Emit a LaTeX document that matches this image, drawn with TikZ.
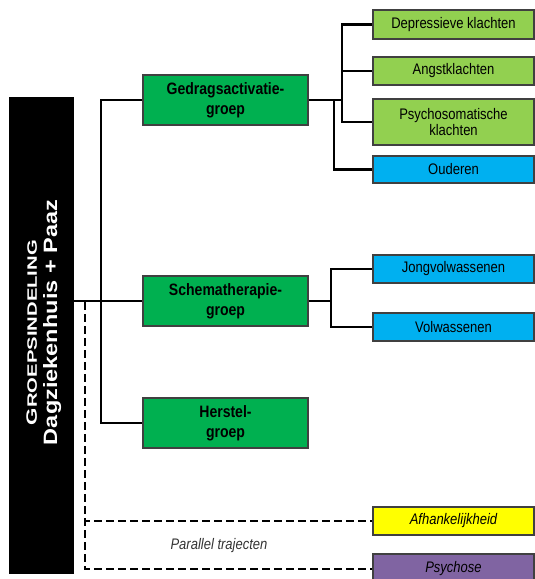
\documentclass[tikz,border=0pt]{standalone}
\usepackage{graphicx}
\usepackage{fontspec}
\setmainfont[FakeStretch=0.85]{Liberation Sans}
\newfontfamily\vertfont{Liberation Sans}
\definecolor{dkgreen}{HTML}{00B050}
\definecolor{ltgreen}{HTML}{92D050}
\definecolor{skyblue}{HTML}{00B0F0}
\definecolor{brightyellow}{HTML}{FFFF00}
\definecolor{lilac}{HTML}{8064A2}
\definecolor{bordergray}{HTML}{404040}
\definecolor{labelgray}{HTML}{333333}
\tikzset{
  bx/.style={draw=bordergray, line width=1.3pt, inner sep=0pt, align=center, text=black},
  grp/.style={bx, fill=dkgreen, minimum width=165pt, minimum height=50pt,
              font=\fontsize{16.5}{20}\selectfont\bfseries},
  sub/.style={bx, minimum width=161pt, font=\fontsize{15.3}{16}\selectfont},
  conn/.style={line width=2.9pt},
  dashconn/.style={line width=2.6pt, dash pattern=on 8pt off 4pt},
  vtext/.style={rotate=90, anchor=base, inner sep=0pt, text=white, font=\vertfont\bfseries},
}
\begin{document}
\begin{tikzpicture}[x=1pt,y=-1pt]
\useasboundingbox (0,0) rectangle (535,579);
\clip (0,0) rectangle (535,579);

% left black bar
\node[fill=black, draw=black, inner sep=0pt, minimum width=64pt, minimum height=476pt] (main) at (41,335) {};
\node[vtext] (title1) at (37,332.5) {\resizebox{185pt}{10.5pt}{\fontsize{16}{16}\selectfont G\fontsize{14.5}{16}\selectfont ROEPSINDELING}};
\node[vtext] (title2) at (57,322.5) {\resizebox{245pt}{14pt}{\fontsize{18}{18}\selectfont Dagziekenhuis + Paaz}};

% group boxes
\node[grp] (gedrag) at (225.5,100) {Gedragsactivatie-\\groep};
\node[grp] (schema) at (225.5,301) {Schematherapie-\\groep};
\node[grp] (herstel) at (225.5,423) {Herstel-\\groep};

% sub boxes
\node[sub, fill=ltgreen, minimum height=29pt] (d1) at (453.5,24.5) {Depressieve klachten};
\node[sub, fill=ltgreen, minimum height=28pt] (d2) at (453.5,71) {Angstklachten};
\node[sub, fill=ltgreen, minimum height=46pt] (d3) at (453.5,122) {Psychosomatische\\klachten};
\node[sub, fill=skyblue, minimum height=27pt] (d4) at (453.5,169.5) {Ouderen};
\node[sub, fill=skyblue, minimum height=28pt] (j1) at (453.5,269) {Jongvolwassenen};
\node[sub, fill=skyblue, minimum height=28pt] (j2) at (453.5,327) {Volwassenen};
\node[sub, fill=brightyellow, minimum height=28pt, font=\fontsize{15.3}{16}\selectfont\itshape] (afh) at (453.5,521) {Afhankelijkheid};
\node[sub, fill=lilac, minimum height=30pt, font=\fontsize{15.3}{16}\selectfont\itshape] (psy) at (453.5,569) {Psychose};

\node[font=\fontsize{15.3}{16}\selectfont\itshape, text=labelgray, inner sep=0pt] (par) at (219,546) {Parallel trajecten};

% trunk connectors
\coordinate (trunk) at (101,301);
\draw[conn] (main.east |- schema.west) -- (schema.west);
\draw[conn] (gedrag.west) -| (trunk) |- (herstel.west);

% Gedragsactivatie branches
\coordinate (gb1) at (342,100);
\coordinate (gb2) at (334,100);
\draw[conn] (gedrag.east) -- (gb1);
\draw[conn] (d1.west) -| (gb1) |- (d3.west);
\draw[conn] (gb1 |- d2.west) -- (d2.west);
\draw[conn] (gb2) |- (d4.west);

% Schematherapie branches
\coordinate (sb) at (331,301);
\draw[conn] (schema.east) -- (sb);
\draw[conn] (j1.west) -| (sb) |- (j2.west);

% dashed parallel connectors
\coordinate (dtop) at (85,302);
\draw[dashconn] (dtop) |- (afh.west);
\draw[dashconn] (dtop) |- (psy.west);
\end{tikzpicture}
\end{document}
